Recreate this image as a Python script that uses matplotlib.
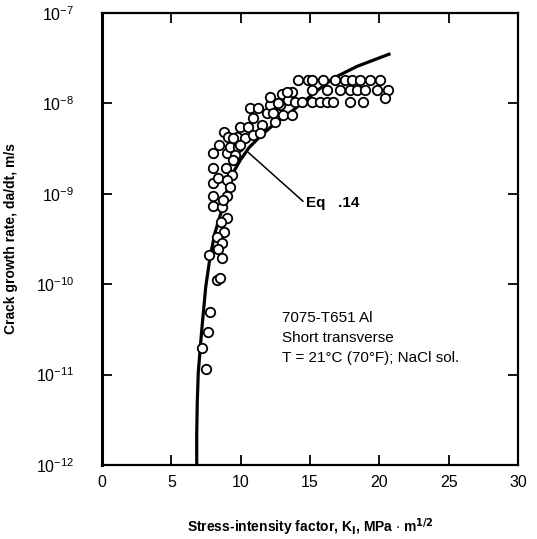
import numpy as np
import matplotlib
matplotlib.use("Agg")
import matplotlib.pyplot as plt

plt.rcParams['font.family'] = ['Liberation Sans', 'DejaVu Sans']
plt.rcParams['mathtext.default'] = 'regular'

# measured points (K in MPa*m^1/2, log10 of da/dt in m/s)
k_pts = [8.00, 9.01, 8.00, 8.65, 9.01, 8.58, 8.80, 8.29, 8.65, 8.36, 7.71, 8.65,
         8.29, 8.51, 7.79, 7.64, 7.21, 7.50,
         8.00, 8.00, 8.00, 8.44, 8.80, 9.08, 9.01, 8.94, 9.37, 8.36, 9.01, 9.23,
         9.23, 9.81, 9.59, 9.44, 9.73, 9.95, 10.31, 10.53, 10.67, 11.25, 10.89,
         10.89, 11.54, 11.39, 11.90, 12.11, 12.11, 12.47, 12.83, 12.98, 13.05,
         13.41, 13.70, 13.70, 13.92, 14.42, 14.13, 14.85, 8.72, 9.44, 9.95,
         12.33, 12.69, 13.34,
         15.14, 15.93, 16.80, 17.52, 18.02, 18.60, 19.32, 20.04,
         15.14, 16.22, 17.16, 17.88, 18.38, 18.96, 19.83, 20.62,
         15.14, 15.72, 16.22, 16.65, 17.88, 18.82, 20.40]
logr_pts = [-9.02, -9.02, -9.13, -9.15, -9.27, -9.31, -9.42, -9.48, -9.54, -9.61,
            -9.68, -9.71, -9.95, -9.93, -10.31, -10.53, -10.71, -10.94,
            -8.55, -8.71, -8.88, -8.46, -8.32, -8.37, -8.55, -8.71, -8.79, -8.83,
            -8.85, -8.92, -8.48, -8.48, -8.57, -8.63, -8.37, -8.26, -8.38, -8.26,
            -8.05, -8.05, -8.16, -8.35, -8.24, -8.33, -8.11, -8.02, -7.93, -8.21,
            -8.02, -7.90, -8.13, -7.96, -7.87, -8.13, -7.98, -7.98, -7.74, -7.74,
            -9.07, -8.38, -8.46, -8.11, -8.00, -7.87,
            -7.74, -7.74, -7.74, -7.74, -7.74, -7.74, -7.74, -7.74,
            -7.85, -7.85, -7.85, -7.85, -7.85, -7.85, -7.85, -7.85,
            -7.98, -7.98, -7.98, -7.98, -7.98, -7.98, -7.94]

# Eq. 14 curve
k_eq = [6.83, 6.83, 6.87, 6.94, 7.19, 7.48, 7.79, 8.15, 8.60, 8.94, 9.44,
        10.0, 10.6, 11.5, 12.5, 13.5, 14.4, 15.5, 16.7, 18.4, 20.8]
logr_eq = [-12.0, -11.65, -11.3, -10.98, -10.51, -10.03, -9.70, -9.43, -9.20,
           -9.00, -8.77, -8.62, -8.49, -8.35, -8.22, -8.11, -8.00, -7.86,
           -7.72, -7.59, -7.45]

xticks = [0, 5, 10, 15, 20, 25, 30]
yexp = [-12, -11, -10, -9, -8, -7]

fig = plt.figure(figsize=(5.37, 5.39), dpi=100)
ax = fig.add_axes([0.190, 0.1373, 0.7746, 0.8386])

ax.plot(k_eq, 10.0 ** np.array(logr_eq), color='black', lw=2.3, zorder=2,
        solid_capstyle='butt')
ax.plot(k_pts, 10.0 ** np.array(logr_pts), 'o', ms=6.8, mfc='white',
        mec='black', mew=1.3, zorder=3)

ax.set_yscale('log')
ax.set_xlim(0, 30)
ax.set_ylim(1e-12, 1e-7)
ax.set_xticks(xticks)
ax.set_xticklabels([str(t) for t in xticks], fontsize=11.5)
ax.set_yticks([10.0 ** e for e in yexp])
ax.set_yticklabels([r'$10^{%d}$' % e for e in yexp], fontsize=11.5)
ax.yaxis.set_minor_locator(matplotlib.ticker.NullLocator())
ax.tick_params(axis='both', direction='in', length=7, width=1.3,
               top=True, right=True)
ax.tick_params(axis='y', pad=20)
ax.tick_params(axis='x', pad=7)
for s in ax.spines.values():
    s.set_linewidth(1.6)
ax.spines['left'].set_linewidth(2.2)

# no ticks at the axis ends
for t in ax.xaxis.get_major_ticks():
    if t.get_loc() in (0, 30):
        t.tick1line.set_visible(False)
        t.tick2line.set_visible(False)
for t in ax.yaxis.get_major_ticks():
    if t.get_loc() in (1e-12, 1e-7):
        t.tick1line.set_visible(False)
        t.tick2line.set_visible(False)

ax.set_xlabel(r'Stress-intensity factor, K$_{\mathbf{I}}$, MPa $\cdot$ m$^{\mathbf{1/2}}$',
              fontsize=10, fontweight='bold', labelpad=19)
ax.set_ylabel('Crack growth rate, da/dt, m/s', fontsize=10,
              fontweight='bold', labelpad=13)

ax.annotate('Eq   .14', xy=(10.53, 10 ** -8.54), xytext=(14.7, 10 ** -9.10),
            fontsize=11, fontweight='bold', va='center', ha='left',
            arrowprops=dict(arrowstyle='-', color='black', lw=1.1,
                            shrinkA=0, shrinkB=0,
                            relpos=(-0.05, 0.6)))

ax.text(0.433, 0.325, '7075-T651 Al', transform=ax.transAxes, fontsize=11,
        va='center', ha='left')
ax.text(0.433, 0.281, 'Short transverse', transform=ax.transAxes,
        fontsize=11, va='center', ha='left')
ax.text(0.433, 0.237, 'T = 21°C (70°F); NaCl sol.', transform=ax.transAxes,
        fontsize=11, va='center', ha='left')

fig.savefig('out.png', dpi=100)
